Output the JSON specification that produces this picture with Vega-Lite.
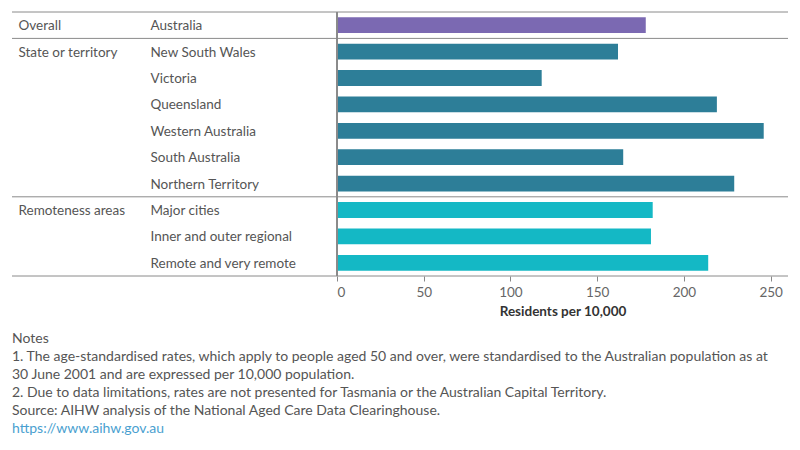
{
  "$schema": "https://vega.github.io/schema/vega-lite/v6.json",
  "width": 776,
  "height": 264,
  "autosize": {"type": "none"},
  "padding": {"left": 12, "top": 12, "right": 12, "bottom": 174},
  "config": {"view": {"stroke": null}, "font": "Lato"},
  "data": {"values": [
    {"group": "Overall", "label": "Australia", "value": 178},
    {"group": "State or territory", "label": "New South Wales", "value": 162},
    {"group": "State or territory", "label": "Victoria", "value": 118},
    {"group": "State or territory", "label": "Queensland", "value": 219},
    {"group": "State or territory", "label": "Western Australia", "value": 246},
    {"group": "State or territory", "label": "South Australia", "value": 165},
    {"group": "State or territory", "label": "Northern Territory", "value": 229},
    {"group": "Remoteness areas", "label": "Major cities", "value": 182},
    {"group": "Remoteness areas", "label": "Inner and outer regional", "value": 181},
    {"group": "Remoteness areas", "label": "Remote and very remote", "value": 214}
  ]},
  "title": {
    "text": ["Notes", "1. The age-standardised rates, which apply to people aged 50 and over, were standardised to the Australian population as at", "30 June 2001 and are expressed per 10,000 population.", "2. Due to data limitations, rates are not presented for Tasmania or the Australian Capital Territory.", "Source: AIHW analysis of the National Aged Care Data Clearinghouse."],
    "subtitle": "https://www.aihw.gov.au",
    "orient": "bottom",
    "anchor": "start",
    "frame": "group",
    "fontSize": 14,
    "fontWeight": "normal",
    "color": "#555555",
    "lineHeight": 17.9,
    "subtitleFontSize": 14,
    "subtitleColor": "#4a9fd0",
    "subtitlePadding": 4,
    "offset": 14
  },
  "layer": [
    {
      "mark": {"type": "bar", "height": {"band": 0.6}},
      "encoding": {
        "y": {
          "field": "label", "type": "nominal",
          "sort": ["Australia", "New South Wales", "Victoria", "Queensland", "Western Australia", "South Australia", "Northern Territory", "Major cities", "Inner and outer regional", "Remote and very remote"],
          "scale": {"paddingInner": 0, "paddingOuter": 0},
          "axis": {"orient": "left", "title": null, "labelAlign": "left", "labelPadding": -138, "labelOffset": 1, "ticks": false, "domain": false, "labelFontSize": 13.5, "labelColor": "#555555"}
        },
        "x": {
          "field": "value", "type": "quantitative",
          "scale": {"domain": [0, 260], "range": [325, 776]},
          "axis": {"title": "Residents per 10,000", "titleFontSize": 13.5, "titleFontWeight": "bold", "titleColor": "#333333", "titlePadding": 6, "values": [0, 50, 100, 150, 200, 250], "labelFlush": true, "labelFontSize": 13.5, "labelColor": "#666666", "labelPadding": 4, "tickSize": 5, "tickColor": "#888888", "domain": false, "grid": false}
        },
        "color": {
          "field": "group", "type": "nominal",
          "scale": {"domain": ["Overall", "State or territory", "Remoteness areas"], "range": ["#7b69b2", "#2d7e98", "#14b8c5"]},
          "legend": null
        }
      }
    },
    {
      "mark": {"type": "text"},
      "encoding": {
        "y": {
          "field": "label", "type": "nominal",
          "sort": ["Australia", "New South Wales", "Victoria", "Queensland", "Western Australia", "South Australia", "Northern Territory", "Major cities", "Inner and outer regional", "Remote and very remote"],
          "axis": {"orient": "left", "title": null, "labelAlign": "left", "labelPadding": -6, "labelOffset": 1, "ticks": false, "domain": false, "labelFontSize": 13.5, "labelColor": "#555555",
            "labelExpr": "datum.label == 'Australia' ? 'Overall' : datum.label == 'New South Wales' ? 'State or territory' : datum.label == 'Major cities' ? 'Remoteness areas' : ''"}
        },
        "text": {"value": ""}
      }
    },
    {
      "transform": [{"filter": {"field": "label", "oneOf": ["Australia", "New South Wales", "Major cities"]}}],
      "mark": {"type": "rule", "color": "#8a8a8a", "strokeWidth": 1},
      "encoding": {
        "y": {"field": "label", "type": "nominal", "bandPosition": 0, "axis": null,
          "sort": ["Australia", "New South Wales", "Victoria", "Queensland", "Western Australia", "South Australia", "Northern Territory", "Major cities", "Inner and outer regional", "Remote and very remote"]}
      }
    },
    {
      "transform": [{"filter": {"field": "label", "equal": "Remote and very remote"}}],
      "mark": {"type": "rule", "color": "#8a8a8a", "strokeWidth": 1},
      "encoding": {
        "y": {"field": "label", "type": "nominal", "bandPosition": 1, "axis": null,
          "sort": ["Australia", "New South Wales", "Victoria", "Queensland", "Western Australia", "South Australia", "Northern Territory", "Major cities", "Inner and outer regional", "Remote and very remote"]}
      }
    },
    {
      "mark": {"type": "rule", "color": "#8a8a8a", "strokeWidth": 1},
      "encoding": {
        "x": {"datum": 0, "type": "quantitative"}
      }
    }
  ],
  "resolve": {"axis": {"y": "independent"}}
}
